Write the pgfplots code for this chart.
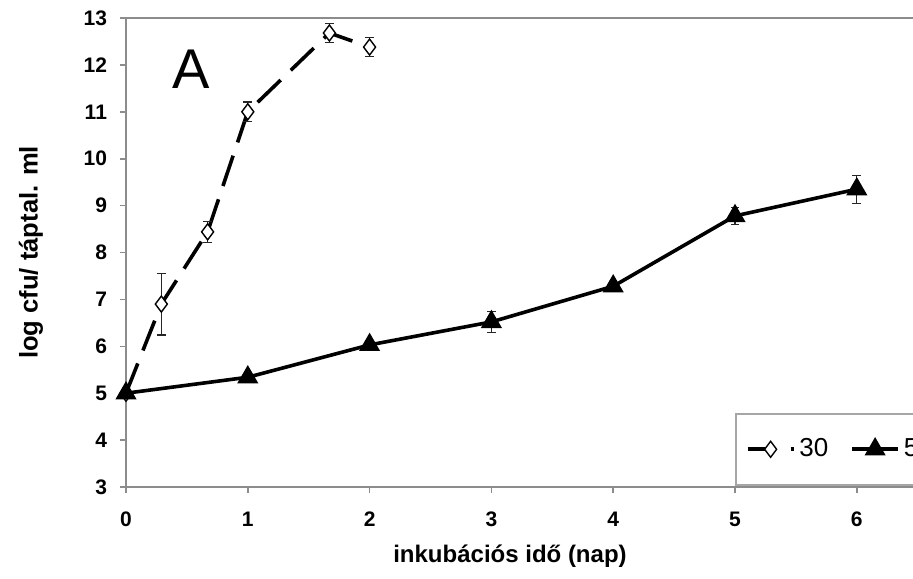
\documentclass[border=0pt]{standalone}
\usepackage{pgfplots}
\pgfplotsset{compat=1.18}
\usepackage{pgfplotstable}
\usepackage{fontspec}
\setmainfont{Liberation Sans}

\pgfplotstableread{
x y e
0 5.00 0
0.29 6.90 0.66
0.67 8.44 0.22
1.00 11.00 0.21
1.67 12.68 0.20
2.00 12.38 0.20
}\thirty

\pgfplotstableread{
x y e
0 5.00 0
1 5.34 0.05
2 6.03 0.06
3 6.52 0.22
4 7.28 0.08
5 8.78 0.18
6 9.35 0.30
}\five

\begin{document}
\begin{tikzpicture}
\begin{axis}[
  scale only axis,
  width=395.85pt, height=234.5pt,
  xmin=0, xmax=6.5, ymin=3, ymax=13,
  xtick={0,1,...,6}, ytick={3,4,...,13},
  tick align=outside, xtick pos=bottom, ytick pos=left,
  major tick length=3pt,
  axis line style={draw=black!45, line width=0.8pt},
  every tick/.style={draw=black!45, line width=0.8pt},
  /pgf/number format/assume math mode=true,
  ticklabel style={font=\fontsize{10.5}{12}\selectfont\bfseries},
  xticklabel style={yshift=-6pt},
  yticklabel style={xshift=-3pt},
  xlabel={inkubációs idő (nap)},
  ylabel={log cfu/ táptal. ml},
  label style={font=\fontsize{12}{14}\selectfont\bfseries},
  ylabel style={font=\fontsize{12.8}{14}\selectfont\bfseries},
  xlabel style={at={(axis description cs:0.485,-0.109)}, anchor=north},
  ylabel style={at={(axis description cs:-0.12,0.5)}, anchor=center},
  legend columns=2,
  legend style={at={(axis cs:5.0,4.58)}, anchor=north west,
    draw=black!35, line width=0.8pt, inner xsep=5pt, inner ysep=10.5pt,
    font=\fontsize{13}{15}\selectfont,
    /tikz/every even column/.append style={column sep=9pt}},
  legend image code/.code={
    \draw[mark repeat=2,mark phase=2,#1] plot coordinates {(0pt,0pt) (11.5pt,0pt) (23pt,0pt)};
  },
  error bars/error bar style={solid, line width=0.6pt, black!85},
  error bars/error mark options={solid, rotate=90, mark size=2.2pt, line width=0.6pt, black!85},
]
\addplot[black, line width=1.8pt, dash pattern=on 16pt off 7pt,
  mark=diamond*, mark size=4pt, mark options={solid, fill=white, line width=0.7pt},
  legend image post style={dash pattern=on 12pt off 9.5pt on 1.5pt off 3pt},
  error bars/.cd, y dir=both, y explicit]
  table[x=x, y=y, y error=e] {\thirty};
\addlegendentry{30}
\addplot[black, line width=1.8pt,
  mark=triangle*, mark size=4.3pt, mark options={solid},
  error bars/.cd, y dir=both, y explicit]
  table[x=x, y=y, y error=e] {\five};
\addlegendentry{5}
\node[font=\fontsize{28}{32}\selectfont] at (axis cs:0.534,11.9) {A};
\coordinate (ll) at (rel axis cs:0,0);
\end{axis}
\pgfresetboundingbox
\useasboundingbox ([xshift=-63pt,yshift=-45.5pt]ll) rectangle ([xshift=393.5pt,yshift=243.5pt]ll);
\end{tikzpicture}
\end{document}
